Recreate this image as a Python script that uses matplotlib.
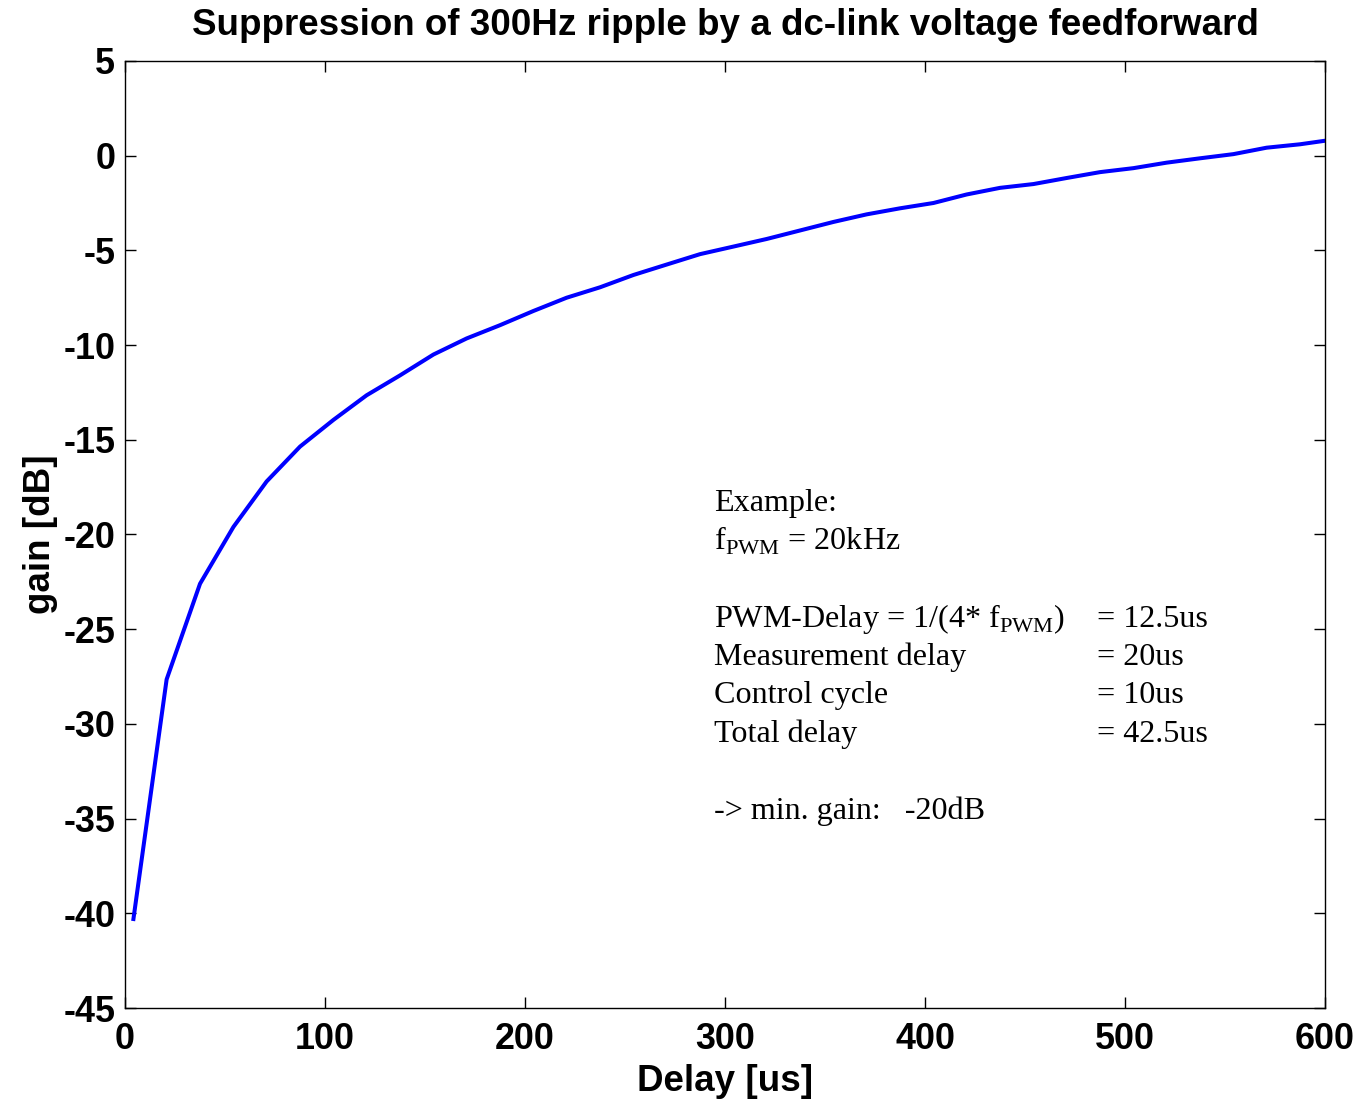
import numpy as np
import matplotlib.pyplot as plt

plt.rcParams['font.family'] = ['Liberation Sans', 'DejaVu Sans']
plt.rcParams['mathtext.fontset'] = 'custom'
plt.rcParams['mathtext.rm'] = 'Liberation Serif'

# delay in us and resulting gain in dB
delay = [4.2, 20.8, 37.5, 54.2, 70.8, 87.5, 104.2, 120.8, 137.5, 154.2,
         170.8, 187.5, 204.2, 220.8, 237.5, 254.2, 270.8, 287.5, 304.2, 320.8,
         337.5, 354.2, 370.8, 387.5, 404.2, 420.8, 437.5, 454.2, 470.8, 487.5,
         504.2, 520.8, 537.5, 554.2, 570.8, 587.5, 604.2]
gain = [-40.3, -27.65, -22.6, -19.6, -17.2, -15.36, -13.95, -12.65, -11.6, -10.5,
        -9.65, -8.95, -8.2, -7.5, -6.95, -6.3, -5.75, -5.2, -4.8, -4.4,
        -3.95, -3.5, -3.1, -2.78, -2.5, -2.05, -1.7, -1.5, -1.18, -0.87,
        -0.66, -0.37, -0.14, 0.08, 0.42, 0.6, 0.85]

xticks = [0, 100, 200, 300, 400, 500, 600]
yticks = [5, 0, -5, -10, -15, -20, -25, -30, -35, -40, -45]

fig = plt.figure(figsize=(13.59, 11), dpi=100)
ax = fig.add_axes([0.092, 0.0836, 0.883, 0.861])
ax.plot(delay, gain, color='#0000ff', lw=2.9)
ax.set_xlim(0, 600)
ax.set_ylim(-45, 5)
ax.set_xticks(xticks)
ax.set_yticks(yticks)
ax.set_xticklabels([str(t) for t in xticks])
ax.set_yticklabels([str(t) for t in yticks])
ax.tick_params(direction='in', length=8, width=1, top=True, right=True,
               labelsize=25.8)
ax.tick_params(axis='x', pad=10)
ax.tick_params(axis='y', pad=7)
for lab in ax.get_xticklabels() + ax.get_yticklabels():
    lab.set_fontweight('bold')
for s in ax.spines.values():
    s.set_linewidth(1)

ax.set_title('Suppression of 300Hz ripple by a dc-link voltage feedforward',
             fontsize=26.5, fontweight='bold', pad=19)
ax.set_xlabel('Delay [us]', fontsize=26.5, fontweight='bold', labelpad=5)
ax.set_ylabel('gain [dB]', fontsize=26.5, fontweight='bold', labelpad=4)

left_lines = ['Example:', r'f$_{\mathrm{PWM}}$ = 20kHz',
              r'PWM-Delay = 1/(4* f$_{\mathrm{PWM}}$)', 'Measurement delay',
              'Control cycle', 'Total delay', '-> min. gain:   -20dB']
left_y = [-18.39, -20.35, -24.47, -26.47, -28.48, -30.54, -34.6]
right_lines = ['= 12.5us', '= 20us', '= 10us', '= 42.5us']
right_y = [-24.47, -26.47, -28.48, -30.54]

for t, y in zip(left_lines, left_y):
    ax.text(294.5, y, t, fontsize=23.1, family='Liberation Serif', va='center')
for t, y in zip(right_lines, right_y):
    ax.text(486, y, t, fontsize=23.1, family='Liberation Serif', va='center')

fig.savefig('out.png', dpi=100)
